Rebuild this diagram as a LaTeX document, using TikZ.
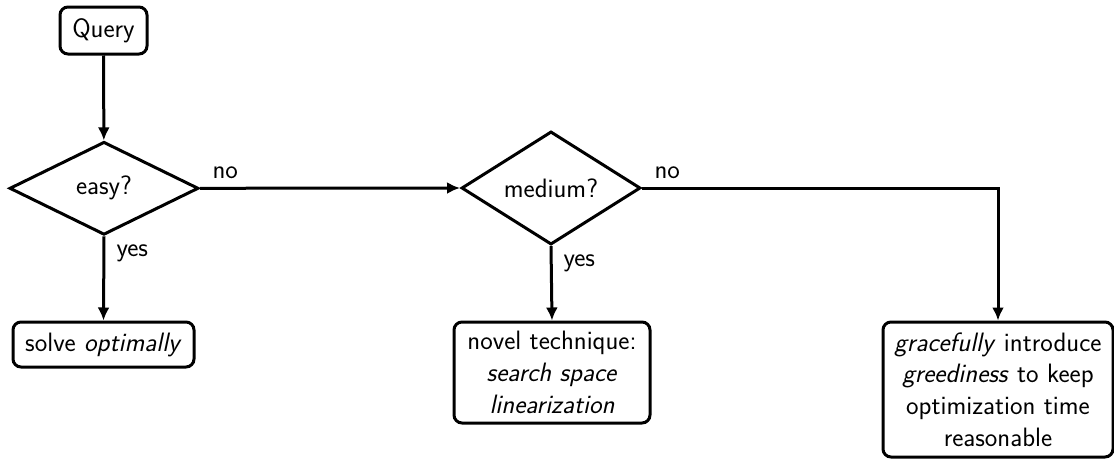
\documentclass[tikz,border=0pt]{standalone}
\usepackage{fontspec}
\usetikzlibrary{shapes.geometric,arrows.meta}
\begin{document}
\begin{tikzpicture}[x=1pt,y=1pt,
  font=\fontsize{26.6}{31.7}\selectfont\sffamily,
  every path/.style={line width=3pt},
  box/.style={draw, rounded corners=8pt, align=center, inner sep=0pt},
  decision/.style={draw, diamond, inner sep=0pt},
  arr/.style={-{Latex[length=13pt,width=12pt]}},
  lbl/.style={inner sep=0pt, anchor=base west}]
\useasboundingbox (0,0) rectangle (1114,-458);
\node[box, minimum width=87pt, minimum height=47pt] (query) at (103.5,-30.5) {Query};
\node[decision, minimum width=189pt, minimum height=93pt] (easy) at (104,-188.3) {easy?};
\node[decision, minimum width=179pt, minimum height=89.5pt] (medium) at (551,-188) {medium?};
\node[box, minimum width=181pt, minimum height=45pt] (solve) at (103.5,-344.5) {solve \textit{optimally}};
\node[box, minimum width=196pt, minimum height=101pt] (novel) at (552,-372.5) {novel technique:\\\textit{search space}\\\textit{linearization}};
\node[box, minimum width=230pt, minimum height=135pt] (grace) at (998,-389.5) {\textit{gracefully} introduce\\\textit{greediness} to keep\\optimization time\\reasonable};
\draw[arr] (query) -- (easy);
\draw[arr] (easy.east) -- node[lbl, pos=0, xshift=11pt, yshift=10pt] {no} (medium.west);
\draw[arr] (easy.south) -- node[lbl, pos=0, xshift=11pt, yshift=-20pt] {yes} (solve.north);
\draw[arr] (medium.south) -- node[lbl, pos=0, xshift=11pt, yshift=-20pt] {yes} (novel.north);
\draw[arr] (medium.east) -- node[lbl, pos=0, xshift=11pt, yshift=10pt] {no} (medium.east -| grace.north) -- (grace.north);
\end{tikzpicture}
\end{document}
